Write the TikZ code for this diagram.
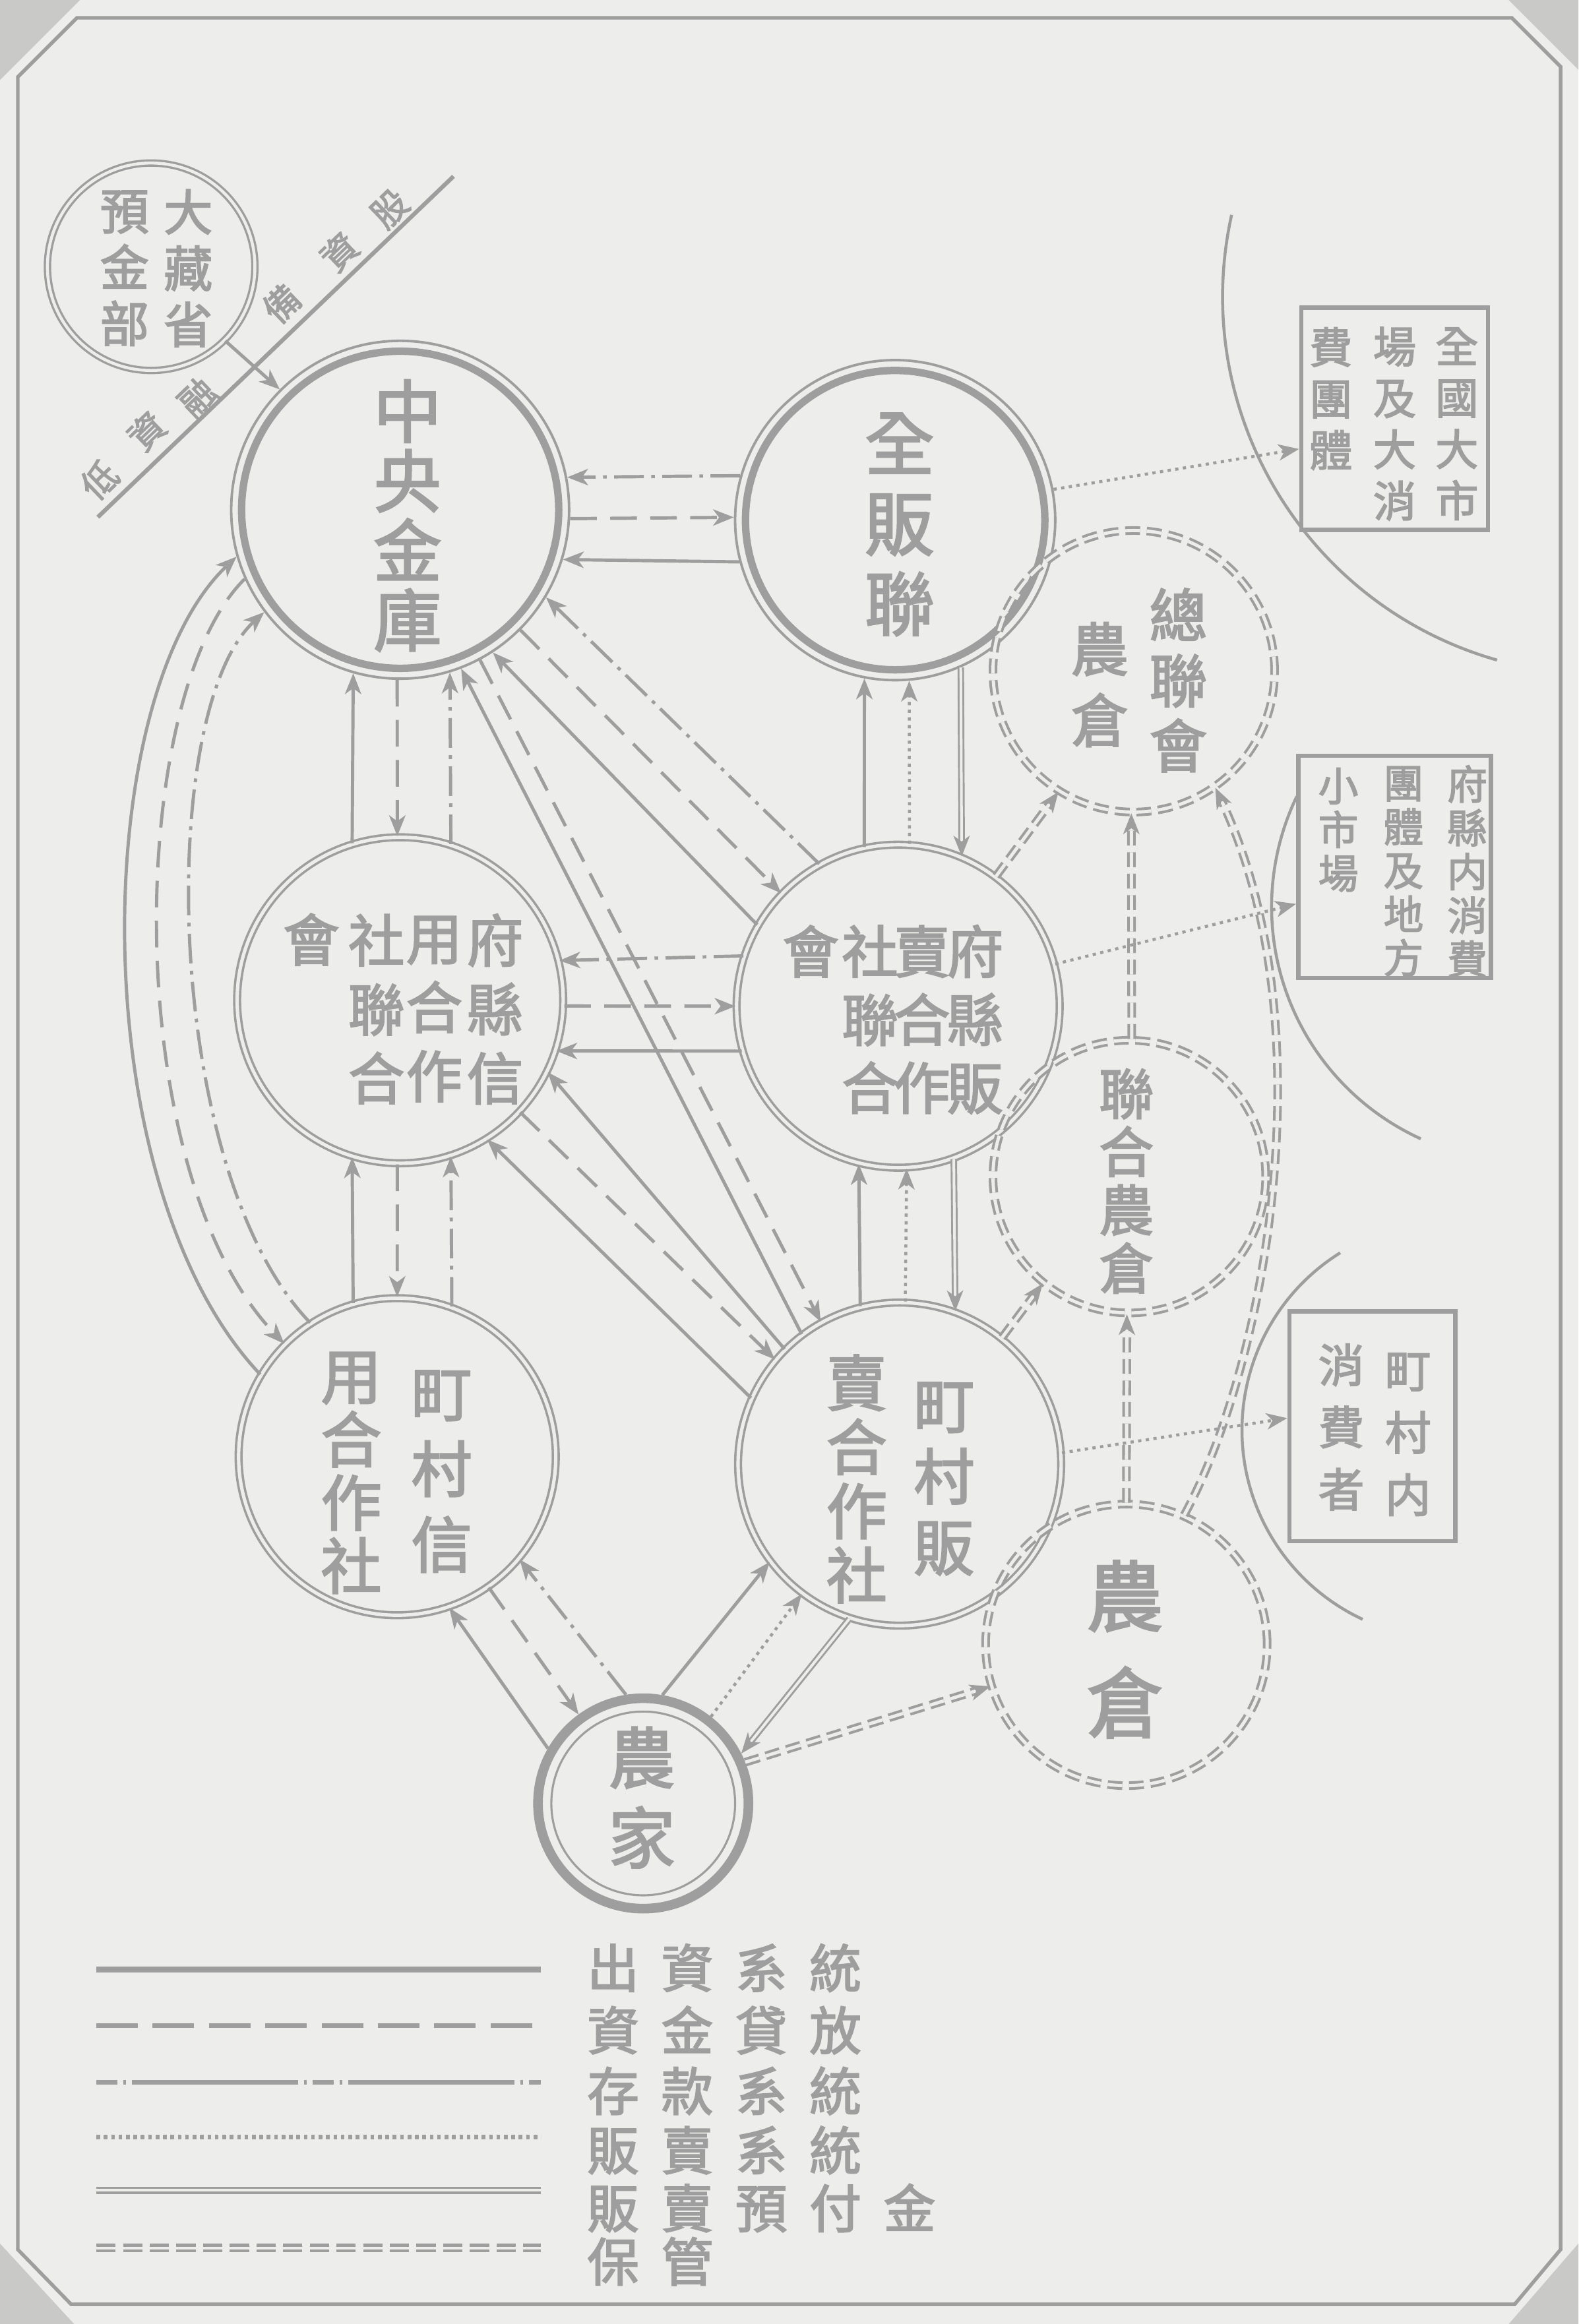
\documentclass[tikz,border=0pt]{standalone}
\usepackage{fontspec}
\newfontfamily\cjk{Noto Sans CJK TC}[FakeBold=2.5]
\usetikzlibrary{arrows.meta}
\definecolor{paper}{RGB}{237,237,235}
\definecolor{ink}{RGB}{158,158,158}
\newcommand{\cjkfs}[2]{\cjk\fontsize{#1}{#2}\selectfont}
\tikzset{
  tp/.style={-{Stealth[length=14pt,width=11pt,inset=4pt]}},
  base/.style={draw=ink, line width=2.2pt},
  sol/.style={base},
  dsh/.style={base, dash pattern=on 18pt off 9pt},
  dd/.style={base, dash pattern=on 20pt off 5pt on 2.5pt off 5pt},
  dt/.style={base, line width=2pt, dash pattern=on 2.2pt off 3pt},
  dbl/.style={draw=ink, double=paper, line width=1.3pt, double distance=1.8pt},
  ddsh/.style={draw=ink, double=paper, line width=1.8pt, double distance=2.2pt, dash pattern=on 10pt off 4.5pt},
  txt/.style={text=ink, inner sep=0pt, align=center},
  ring/.style={circle, draw=ink, inner sep=0pt},
  wh/.style={circle, ddsh, inner sep=0pt},
  bx/.style={draw=ink, line width=3pt, inner sep=0pt},
}
\begin{document}
\begin{tikzpicture}[x=1pt,y=-1pt]
\fill[paper] (0,0) rectangle (1065,1568.3);
\useasboundingbox (0,0) rectangle (1065,1568.3);
% frame
\fill[ink!45!paper] (0,0) -- (54,0) -- (0,54) -- cycle;
\fill[ink!45!paper] (1065,0) -- (1018,0) -- (1065,47) -- cycle;
\fill[ink!45!paper] (0,1568.3) -- (0,1514) -- (50,1568.3) -- cycle;
\fill[ink!45!paper] (1065,1568.3) -- (1065,1514) -- (1018,1568.3) -- cycle;
\draw[ink, line width=2.4pt] (12,52) -- (52,12) -- (1020,12) -- (1053,45) -- (1053,1518) -- (1022,1555) -- (48,1555) -- (12,1518) -- cycle;

% boundary arcs
\draw[ink, line width=2pt] (831,145) arc[start angle=192.5, end angle=105.9, radius=255];
\draw[ink, line width=2pt] (875,537.4) arc[start angle=205.7, end angle=114.5, radius=172];
\draw[ink, line width=2pt] (904.3,845.4) arc[start angle=238, end angle=115, radius=141];

% main nodes
\node[ring, double=paper, line width=1.5pt, double distance=2pt, minimum size=140pt] (Z) at (102,180) {};
\node[ring, line width=1.7pt, minimum size=228pt] (A) at (270,344) {};
\draw[ink, line width=5pt] (A.center) circle[radius=107];
\node[ring, line width=1.7pt, minimum size=216pt] (B) at (604,351) {};
\draw[ink, line width=5pt] (B.center) circle[radius=101];
\node[ring, double=paper, line width=1.6pt, double distance=2.3pt, minimum size=220pt] (C) at (270,675) {};
\node[ring, double=paper, line width=1.6pt, double distance=2.3pt, minimum size=218pt] (D) at (606,679) {};
\node[ring, double=paper, line width=1.6pt, double distance=2.3pt, minimum size=214pt] (E) at (268,983) {};
\node[ring, double=paper, line width=1.6pt, double distance=2.3pt, minimum size=218pt] (F) at (607,988) {};
\node[ring, line width=6.5pt, minimum size=142pt] (G) at (434,1217) {};
\draw[ink, line width=1.4pt] (G.center) circle[radius=62];
\node[wh, minimum size=190pt] (H1) at (765,453) {};
\node[wh, minimum size=184pt] (H2) at (762,794) {};
\node[wh, minimum size=190pt] (H3) at (760,1110) {};
\node[bx, minimum width=126pt, minimum height=150pt] (X1) at (941,282.5) {};
\node[bx, minimum width=130pt, minimum height=150pt] (X2) at (941,585) {};
\node[bx, minimum width=112pt, minimum height=155pt] (X3) at (926,962.5) {};

% texts
\node[txt, font={\cjkfs{33}{38}}] (tZ1) at (127,181) {大\\藏\\省};
\node[txt, font={\cjkfs{33}{38}}] (tZ2) at (84,181) {預\\金\\部};
\node[txt, font={\cjkfs{46}{47}}] (tA) at (275,348) {中\\央\\金\\庫};
\node[txt, font={\cjkfs{47}{54}}] (tB) at (607,354) {全\\販\\聯};
\node[txt, font={\cjkfs{38}{46.5}}] (tC1) at (334,681) {府\\縣\\信};
\node[txt, font={\cjkfs{38}{46.5}}] (tC2) at (293,681) {用\\合\\作};
\node[txt, font={\cjkfs{38}{46.5}}] (tC3) at (254,681) {社\\聯\\合};
\node[txt, font={\cjkfs{38}{46.5}}] (tC4) at (210,634) {會};
\node[txt, font={\cjkfs{38}{46}}] (tD1) at (658,688) {府\\縣\\販};
\node[txt, font={\cjkfs{38}{46}}] (tD2) at (622,688) {賣\\合\\作};
\node[txt, font={\cjkfs{38}{46}}] (tD3) at (587,688) {社\\聯\\合};
\node[txt, font={\cjkfs{38}{46}}] (tD4) at (547,642) {會};
\node[txt, font={\cjkfs{41}{51}}] (tE1) at (298,993) {町\\村\\信};
\node[txt, font={\cjkfs{41}{42.7}}] (tE2) at (237,994) {用\\合\\作\\社};
\node[txt, font={\cjkfs{41}{48}}] (tF1) at (637,998) {町\\村\\販};
\node[txt, font={\cjkfs{41}{43.3}}] (tF2) at (578,998) {賣\\合\\作\\社};
\node[txt, font={\cjkfs{45}{54}}] (tG) at (433,1213) {農\\家};
\node[txt, font={\cjkfs{39}{44}}] (tH1a) at (795,459) {總\\聯\\會};
\node[txt, font={\cjkfs{39}{48}}] (tH1b) at (742,462) {農\\倉};
\node[txt, font={\cjkfs{37}{39.3}}] (tH2) at (760,797) {聯\\合\\農\\倉};
\node[txt, font={\cjkfs{52}{72}}] (tH3) at (759,1113) {農\\倉};
\node[txt, font={\cjkfs{29}{34.7}}] (tX1a) at (983,286) {全\\國\\大\\市};
\node[txt, font={\cjkfs{29}{34.7}}] (tX1b) at (941,286) {場\\及\\大\\消};
\node[txt, font={\cjkfs{29}{34.7}}] (tX1c) at (898,269) {費\\團\\體};
\node[txt, font={\cjkfs{27}{29.5}}] (tX2a) at (990,588) {府\\縣\\内\\消\\費};
\node[txt, font={\cjkfs{27}{29.5}}] (tX2b) at (947,588) {團\\體\\及\\地\\方};
\node[txt, font={\cjkfs{27}{29.5}}] (tX2c) at (903,560) {小\\市\\場};
\node[txt, font={\cjkfs{31}{42}}] (tX3a) at (950,968) {町\\村\\内};
\node[txt, font={\cjkfs{31}{42}}] (tX3b) at (905,963) {消\\費\\者};

% diagonal line with text
\draw[ink, line width=2.8pt] (66,349) -- (306,119);
\node[txt, font={\cjkfs{24}{24}}, rotate=43.8] (r1) at (67,324) {低};
\node[txt, font={\cjkfs{24}{24}}, rotate=43.8] (r2) at (99,291) {資};
\node[txt, font={\cjkfs{24}{24}}, rotate=43.8] (r3) at (133,268) {融};
\node[txt, font={\cjkfs{24}{24}}, rotate=43.8] (r4) at (190,205) {備};
\node[txt, font={\cjkfs{24}{24}}, rotate=43.8] (r5) at (229,170) {資};
\node[txt, font={\cjkfs{24}{24}}, rotate=43.8] (r6) at (263,141) {股};

% Z -> A
\draw[sol,tp] (Z.-45) -- (A.135.7);
% A-B
\draw[dd,tp] (B.164.4) -- (A.11.1);
\draw[dsh,tp] (A.-3) -- (B.179.5);
\draw[sol,tp] (B.-165.5) -- (A.-17.4);
% C-D
\draw[dd,tp] (D.162.9) -- (C.14.7);
\draw[dsh,tp] (C.-2.1) -- (D.180);
\draw[sol,tp] (D.-164) -- (C.-18);
% A-C
\draw[sol,tp] (C.107.5) -- (A.-106.8);
\draw[dsh,tp] (A.-91) -- (C.91);
\draw[dd,tp] (C.72.5) -- (A.-73.2);
% C-E
\draw[sol,tp] (E.106.8) -- (C.-107.5);
\draw[dsh,tp] (C.-91) -- (E.90);
\draw[dd,tp] (E.70.9) -- (C.-72.5);
% B-D
\draw[sol,tp] (D.102.2) -- (B.-101.2);
\draw[dt,tp] (D.86.3) -- (B.-85.2);
\draw[dbl,tp] (B.-66.5) -- (D.67.9);
% D-F
\draw[sol,tp] (F.104.9) -- (D.-104.3);
\draw[dt,tp] (F.88.4) -- (D.-87.9);
\draw[dbl,tp] (D.-70.2) -- (F.70.7);
% A-D
\draw[dd,tp] (D.119.4) -- (A.-31.3);
\draw[dsh,tp] (A.-45.3) -- (D.136.1);
\draw[sol,tp] (D.150.1) -- (A.-57.1);
% A-F
\draw[sol,tp] (F.127.1) -- (A.-69.3);
\draw[dsh,tp] (A.-62) -- (F.119.5);
% C-F
\draw[sol,tp] (F.135) -- (C.-26.6);
\draw[dsh,tp] (C.-43.2) -- (F.140.8);
\draw[sol,tp] (F.156.3) -- (C.-58.4);
% E-G
\draw[sol,tp] (G.150.8) -- (E.-71.3);
\draw[dsh,tp] (E.-55.7) -- (G.126.3);
\draw[dd,tp] (G.99.3) -- (E.-40.8);
% F-G
\draw[sol,tp] (G.80) -- (F.-143.4);
\draw[dt,tp] (G.52.4) -- (F.-127.2);
\draw[dbl,tp] (F.-108.7) -- (G.27.8);
\draw[ddsh,tp] (G.22) -- (H3.-163.4);
% warehouses
\draw[ddsh,tp] (D.53.1) -- (H1.-122.7);
\draw[ddsh,tp] (F.51.3) -- (H2.-129.8);
\draw[ddsh,tp] (H2.89.4) -- (H1.-91.2);
\draw[ddsh,tp] (H3.90) -- (H2.-91.2);
\draw[ddsh,tp] (H3.66) .. controls (855,920) and (895,690) .. (H1.-55);
% A-E arcs
\draw[sol,tp] (E.149) .. controls (55,800) and (60,470) .. (A.-164.3);
\draw[dsh,tp] (A.-156.3) .. controls (85,470) and (80,790) .. (E.135);
\draw[dd,tp] (E.123) .. controls (110,790) and (105,480) .. (A.-143.7);
% to markets
\draw[dt,tp] (B.11) -- ([yshift=-20.5pt]X1.west);
\draw[dt,tp] (D.15.4) -- ([yshift=-25pt]X2.west);
\draw[dt,tp] (F.4.3) -- ([yshift=5.5pt]X3.west);

% legend
\coordinate (L1a) at (65,1329); \coordinate (L1b) at (365,1329);
\coordinate (L2a) at (65,1367); \coordinate (L2b) at (365,1367);
\coordinate (L3a) at (65,1405); \coordinate (L3b) at (365,1405);
\coordinate (L4a) at (65,1442); \coordinate (L4b) at (365,1442);
\coordinate (L5a) at (65,1478); \coordinate (L5b) at (365,1478);
\coordinate (L6a) at (65,1517); \coordinate (L6b) at (365,1517);
\draw[ink, line width=3.8pt] (L1a) -- (L1b);
\draw[ink, line width=3.2pt, dash pattern=on 28pt off 10pt] (L2a) -- (L2b);
\draw[ink, line width=3.2pt, dash pattern=on 14pt off 4pt on 2pt off 4pt on 112pt off 4pt on 2pt off 4pt] (L3a) -- (L3b);
\draw[ink, line width=3.2pt, dash pattern=on 2.5pt off 2.5pt] (L4a) -- (L4b);
\draw[ink, double=paper, line width=1.7pt, double distance=1.6pt] (L5a) -- (L5b);
\draw[ink, double=paper, line width=1.9pt, double distance=2pt, dash pattern=on 13pt off 5pt] (L6a) -- (L6b);
\node[txt, font={\cjkfs{35}{40}}, anchor=west] (lg1) at (396,1328) {出\hspace{15pt}資\hspace{15pt}系\hspace{15pt}統};
\node[txt, font={\cjkfs{35}{40}}, anchor=west] (lg2) at (396,1370) {資\hspace{15pt}金\hspace{15pt}貸\hspace{15pt}放};
\node[txt, font={\cjkfs{35}{40}}, anchor=west] (lg3) at (396,1411) {存\hspace{15pt}款\hspace{15pt}系\hspace{15pt}統};
\node[txt, font={\cjkfs{35}{40}}, anchor=west] (lg4) at (396,1451) {販\hspace{15pt}賣\hspace{15pt}系\hspace{15pt}統};
\node[txt, font={\cjkfs{35}{40}}, anchor=west] (lg5) at (396,1490) {販\hspace{15pt}賣\hspace{15pt}預\hspace{15pt}付\hspace{15pt}金};
\node[txt, font={\cjkfs{35}{40}}, anchor=west] (lg6) at (396,1526) {保\hspace{15pt}管};
\end{tikzpicture}
\end{document}
